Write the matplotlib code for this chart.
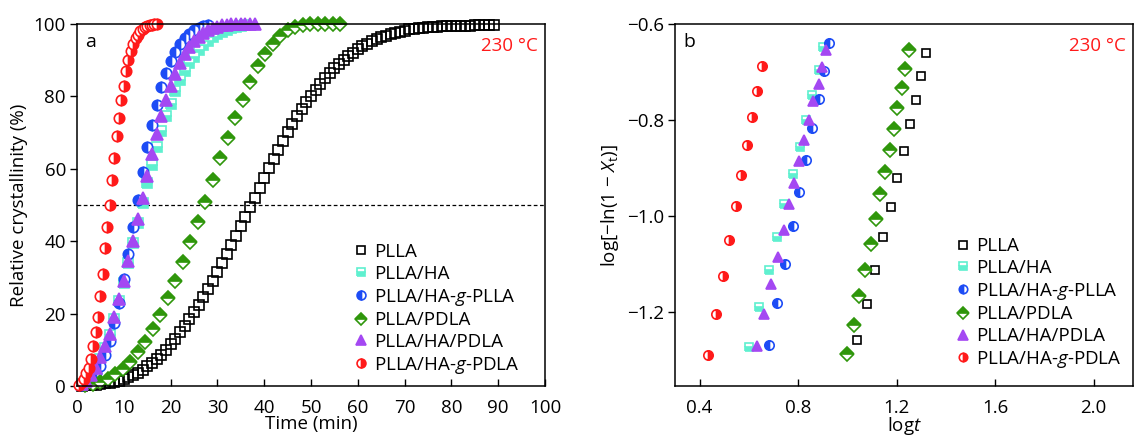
import matplotlib
matplotlib.use("Agg")
import matplotlib.pyplot as plt

plt.rcParams["font.family"] = ["Open Sans", "DejaVu Sans"]
plt.rcParams["mathtext.fontset"] = "custom"
plt.rcParams["mathtext.rm"] = "Open Sans"
plt.rcParams["mathtext.it"] = "Open Sans:italic"
plt.rcParams["font.size"] = 13.5

# ---- panel a: relative crystallinity (%) vs time (min) ----
t_plla = [1, 2, 3, 4, 5, 6, 7, 8, 9, 10, 11, 12, 13, 14, 15, 16, 17, 18, 19, 20,
          21, 22, 23, 24, 25, 26, 27, 28, 29, 30, 31, 32, 33, 34, 35, 36, 37, 38, 39, 40,
          41, 42, 43, 44, 45, 46, 47, 48, 49, 50, 51, 52, 53, 54, 55, 56, 57, 58, 59, 60,
          61, 62, 63, 64, 65, 66, 67, 68, 69, 70, 71, 72, 73, 74, 75, 76, 77, 78, 79, 80,
          81, 82, 83, 84, 85, 86, 87, 88, 89]
x_plla = [0.1, 0.2, 0.3, 0.4, 0.5, 0.7, 0.9, 1.2, 1.5, 1.9, 2.4, 3.0, 3.7, 4.5, 5.4, 6.4, 7.5, 8.7, 10.0, 11.5,
          13.1, 14.8, 16.6, 18.5, 20.4, 22.5, 24.6, 26.8, 29.1, 31.5, 34.0, 36.5, 39.0, 41.5, 44.1, 46.8, 49.4, 52.0, 54.8, 57.5,
          60.2, 62.8, 65.3, 67.8, 70.1, 72.3, 74.5, 76.5, 78.4, 80.2, 81.9, 83.5, 85.0, 86.5, 87.8, 89.0, 90.1, 91.2, 92.1, 93.0,
          93.8, 94.5, 95.2, 95.8, 96.3, 96.8, 97.2, 97.6, 97.9, 98.2, 98.5, 98.7, 98.9, 99.0, 99.1, 99.2, 99.3, 99.35, 99.4, 99.4,
          99.45, 99.5, 99.5, 99.55, 99.6, 99.6, 99.65, 99.7, 99.7]

t_ha = [1, 2, 3, 4, 5, 6, 7, 8, 9, 10, 11, 12, 13, 14, 15, 16, 17, 18,
        19, 20, 21, 22, 23, 24, 25, 26, 27, 28, 29, 30, 31, 32, 33, 34, 35, 36]
x_ha = [0.5, 1.5, 3.0, 5.0, 7.5, 10.5, 14.0, 18.5, 23.5, 28.5, 34.0, 39.5, 45.0, 50.5, 56.0, 61.0, 66.0, 70.5,
        74.5, 78.0, 81.5, 84.5, 87.0, 89.2, 91.0, 92.7, 94.2, 95.4, 96.4, 97.2, 97.9, 98.4, 98.8, 99.1, 99.4, 99.6]

t_ha_g_plla = [1, 2, 3, 4, 5, 6, 7, 8, 9, 10, 11, 12, 13, 14,
               15, 16, 17, 18, 19, 20, 21, 22, 23, 24, 25, 26, 27, 28]
x_ha_g_plla = [0.4, 1.0, 2.0, 3.5, 5.5, 8.5, 12.5, 17.5, 23.0, 29.5, 36.5, 44.0, 51.5, 59.0,
               66.0, 72.0, 77.5, 82.5, 86.5, 89.7, 92.2, 94.4, 96.0, 97.3, 98.3, 99.0, 99.5, 99.8]

t_pdla = [1.8, 3.4, 5.0, 6.6, 8.2, 9.8, 11.4, 13.0, 14.6, 16.2, 17.8, 19.4, 21.0, 22.6, 24.2, 25.8, 27.4, 29.0,
          30.6, 32.2, 33.8, 35.4, 37.0, 38.6, 40.2, 41.8, 43.4, 45.0, 46.6, 48.2, 49.8, 51.4, 53.0, 54.6, 56.2]
x_pdla = [0.3, 0.6, 1.0, 2.0, 3.3, 4.7, 6.5, 9.3, 12.1, 15.7, 19.6, 24.2, 29.1, 34.2, 39.7, 45.2, 50.8, 57.0,
          62.9, 68.5, 74.0, 79.0, 84.0, 88.3, 91.8, 94.6, 96.7, 98.3, 99.3, 99.7, 99.9, 100.0, 100.0, 100.0, 100.0]

t_ha_pdla = [1, 2, 3, 4, 5, 6, 7, 8, 9, 10, 11, 12, 13, 14, 15, 16, 17, 18, 19,
             20, 21, 22, 23, 24, 25, 26, 27, 28, 29, 30, 31, 32, 33, 34, 35, 36, 37, 38]
x_ha_pdla = [0.5, 1.5, 3.0, 5.0, 8.0, 11.0, 14.5, 19.0, 24.0, 29.0, 34.5, 40.0, 46.0, 52.0, 58.0, 64.0, 69.5, 74.5, 79.0,
             83.0, 86.3, 89.2, 91.6, 93.6, 95.2, 96.5, 97.5, 98.3, 98.9, 99.3, 99.6, 99.8, 99.9, 99.9, 100.0, 100.0, 100.0, 100.0]

t_ha_g_pdla = [0.5, 1.0, 1.5, 2.0, 2.5, 3.0, 3.5, 4.0, 4.5, 5.0, 5.5, 6.0, 6.5, 7.0, 7.5, 8.0, 8.5,
               9.0, 9.5, 10.0, 10.5, 11.0, 11.5, 12.0, 12.5, 13.0, 13.5, 14.0, 14.5, 15.0, 15.5, 16.0, 16.5, 17.0]
x_ha_g_pdla = [0.3, 1.0, 2.0, 3.5, 5.0, 7.5, 11.0, 15.0, 19.0, 25.0, 31.0, 38.0, 44.0, 50.0, 57.0, 63.0, 69.0,
               74.0, 79.0, 83.0, 87.0, 90.0, 92.5, 94.5, 96.0, 97.0, 98.0, 98.7, 99.2, 99.5, 99.7, 99.8, 99.9, 100.0]

# ---- panel b: Avrami plot, log[-ln(1-Xt)] vs log t ----
lt_plla = [1.041, 1.079, 1.114, 1.146, 1.177, 1.203, 1.230, 1.253, 1.277, 1.300, 1.320]
ly_plla = [-1.258, -1.183, -1.111, -1.044, -0.980, -0.921, -0.865, -0.809, -0.758, -0.708, -0.661]
lt_ha = [0.599, 0.641, 0.680, 0.714, 0.743, 0.779, 0.806, 0.830, 0.858, 0.883, 0.902]
ly_ha = [-1.271, -1.189, -1.112, -1.043, -0.975, -0.913, -0.856, -0.800, -0.747, -0.695, -0.647]
lt_ha_g_plla = [0.683, 0.714, 0.747, 0.779, 0.805, 0.832, 0.858, 0.886, 0.906, 0.927]
ly_ha_g_plla = [-1.267, -1.180, -1.099, -1.021, -0.950, -0.882, -0.816, -0.755, -0.697, -0.639]
lt_pdla = [0.999, 1.026, 1.048, 1.071, 1.094, 1.115, 1.134, 1.152, 1.172, 1.188, 1.203, 1.220, 1.235, 1.250]
ly_pdla = [-1.286, -1.226, -1.166, -1.111, -1.058, -1.006, -0.954, -0.908, -0.863, -0.818, -0.775, -0.733, -0.693, -0.654]
lt_ha_pdla = [0.633, 0.663, 0.691, 0.717, 0.741, 0.764, 0.784, 0.805, 0.825, 0.843, 0.862, 0.883, 0.897, 0.913]
ly_ha_pdla = [-1.269, -1.203, -1.141, -1.084, -1.028, -0.975, -0.930, -0.885, -0.842, -0.800, -0.761, -0.724, -0.690, -0.655]
lt_ha_g_pdla = [0.435, 0.465, 0.493, 0.518, 0.547, 0.568, 0.593, 0.614, 0.633, 0.653]
ly_ha_g_pdla = [-1.288, -1.204, -1.125, -1.050, -0.979, -0.914, -0.852, -0.794, -0.739, -0.687]

labels = ["PLLA", "PLLA/HA", "PLLA/HA-$g$-PLLA", "PLLA/PDLA", "PLLA/HA/PDLA", "PLLA/HA-$g$-PDLA"]

styles = [
    dict(marker="s", color="black", mfc="white", fillstyle="none", ms=6.5),
    dict(marker="s", color="#5ff0cf", mfc="#5ff0cf", mfcalt="white", fillstyle="bottom", ms=7),
    dict(marker="o", color="#1d4cf5", mfc="#1d4cf5", mfcalt="white", fillstyle="left", ms=7.5),
    dict(marker="D", color="#2f960b", mfc="#2f960b", mfcalt="white", fillstyle="top", ms=7.5),
    dict(marker="^", color="#a448f2", mfc="#a448f2", fillstyle="full", ms=8.5),
    dict(marker="o", color="#ff1a1a", mfc="#ff1a1a", mfcalt="white", fillstyle="right", ms=7.5),
]

fig = plt.figure(figsize=(11.35, 4.36), dpi=100)
ax1 = fig.add_axes([77 / 1135, 50 / 436, 468 / 1135, 362 / 436])
ax2 = fig.add_axes([675 / 1135, 50 / 436, 458 / 1135, 362 / 436])

series_a = [(t_plla, x_plla), (t_ha, x_ha), (t_ha_g_plla, x_ha_g_plla),
            (t_pdla, x_pdla), (t_ha_pdla, x_ha_pdla), (t_ha_g_pdla, x_ha_g_pdla)]
series_b = [(lt_plla, ly_plla), (lt_ha, ly_ha), (lt_ha_g_plla, ly_ha_g_plla),
            (lt_pdla, ly_pdla), (lt_ha_pdla, ly_ha_pdla), (lt_ha_g_pdla, ly_ha_g_pdla)]

for ax, series, scale in [(ax1, series_a, 1.0), (ax2, series_b, 0.9)]:
    for (xs, ys), lab, st in zip(series, labels, styles):
        ax.plot(xs, ys, linestyle="none", marker=st["marker"], ms=st["ms"] * scale,
                mec=st["color"], mfc=st["mfc"], mfcalt=st.get("mfcalt", "white"),
                fillstyle=st["fillstyle"], mew=1.2, label=lab, clip_on=False)

# panel a
ax1.axhline(50, color="black", lw=0.9, ls=(0, (3, 2)), zorder=0)
ax1.set_xlim(0, 100)
ax1.set_ylim(0, 100)
ax1.set_xticks(range(0, 101, 10))
ax1.set_yticks(range(0, 101, 20))
ax1.set_xlabel("Time (min)", labelpad=-1)
ax1.set_ylabel("Relative crystallinity (%)", labelpad=4)
ax1.text(0.018, 0.975, "a", transform=ax1.transAxes, ha="left", va="top", fontsize=14)
ax1.text(0.985, 0.965, "230 °C", transform=ax1.transAxes, ha="right", va="top", color="#ff1a1a")
ax1.legend(loc="lower left", bbox_to_anchor=(0.562, -0.008), frameon=False, handlelength=0.8,
           handletextpad=0.3, labelspacing=0.2, borderpad=0.2, markerscale=0.85)

# panel b
ax2.set_xlim(0.3, 2.16)
ax2.set_ylim(-1.353, -0.6)
ax2.set_xticks([0.4, 0.8, 1.2, 1.6, 2.0])
ax2.set_xticklabels(["0.4", "0.8", "1.2", "1.6", "2.0"])
ax2.set_yticks([-0.6, -0.8, -1.0, -1.2])
ax2.set_yticklabels(["\u22120.6", "\u22120.8", "\u22121.0", "\u22121.2"])
ax2.set_xlabel("log$t$", labelpad=-1)
ax2.set_ylabel("log[\u2212ln(1 \u2212 $X_\\mathrm{t}$)]", labelpad=4)
ax2.text(0.018, 0.975, "b", transform=ax2.transAxes, ha="left", va="top", fontsize=14)
ax2.text(0.985, 0.965, "230 °C", transform=ax2.transAxes, ha="right", va="top", color="#ff1a1a")
ax2.legend(loc="lower left", bbox_to_anchor=(0.583, 0.008), frameon=False, handlelength=0.8,
           handletextpad=0.3, labelspacing=0.2, borderpad=0.2, markerscale=0.9)

for ax in (ax1, ax2):
    ax.tick_params(axis="x", direction="in", length=5, width=1, pad=9)
    ax.tick_params(axis="y", direction="out", length=5, width=1, pad=3)
    for sp in ax.spines.values():
        sp.set_linewidth(1.1)

fig.savefig("out.png", dpi=100)
